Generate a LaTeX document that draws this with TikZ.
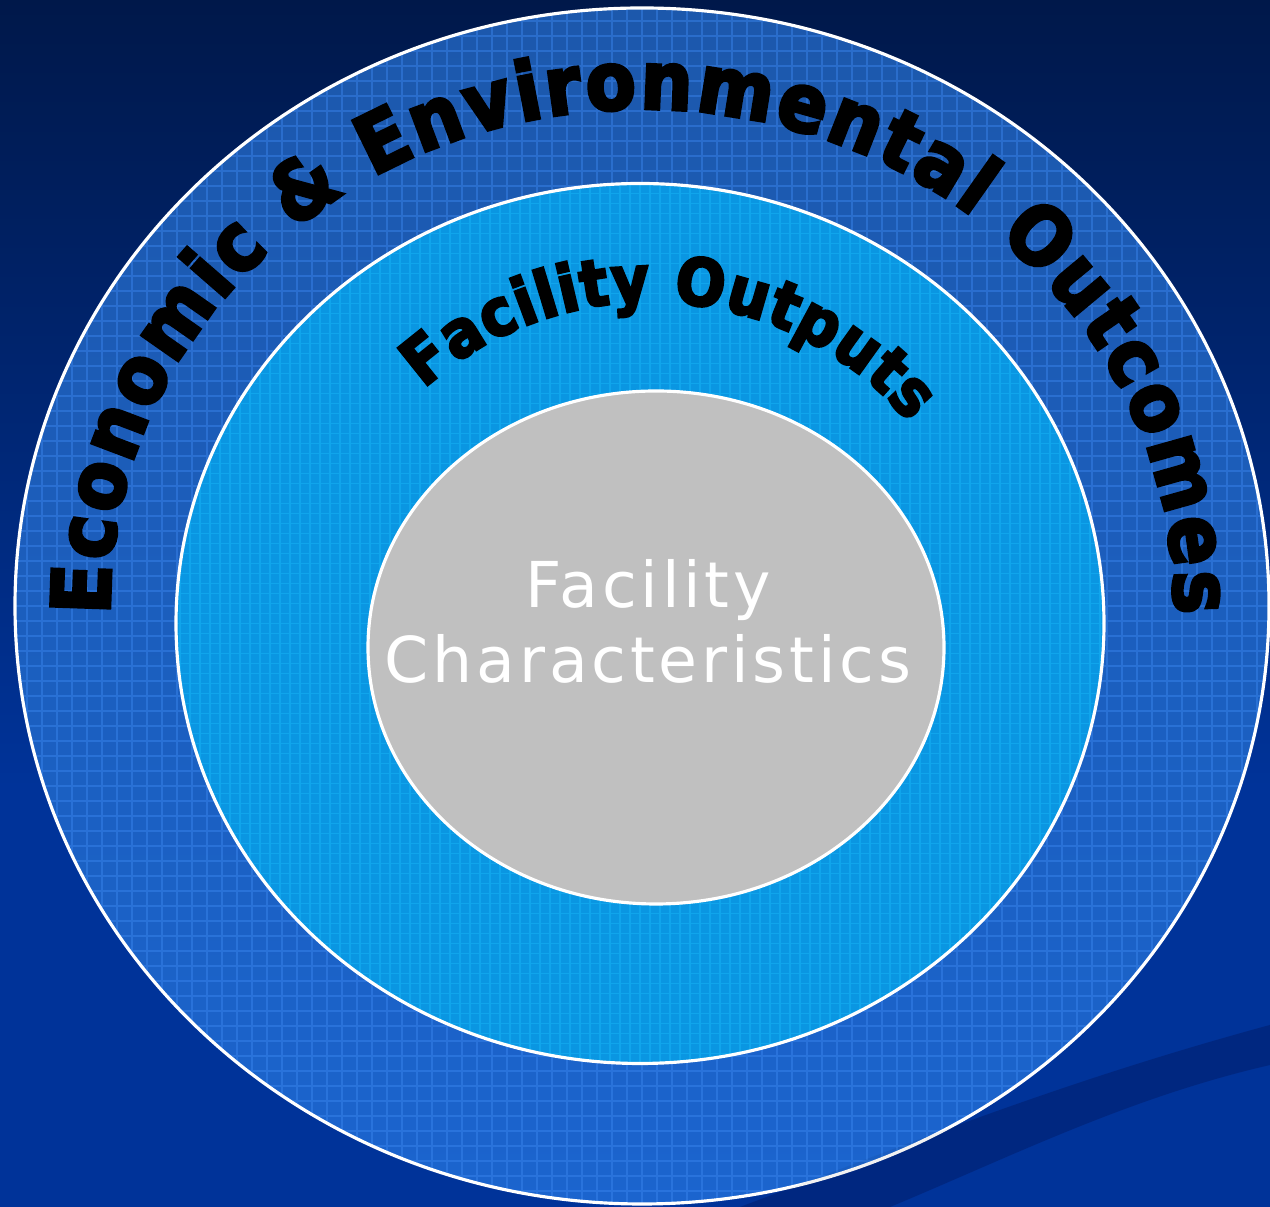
\documentclass[tikz,border=0pt]{standalone}
\usepackage{fontspec}
\setmainfont{DejaVu Sans}
\newfontfamily\heavyfont{DejaVu Sans Bold}[FakeBold=4,FakeStretch=0.9]
\newfontfamily\labelfont{DejaVu Sans}[LetterSpace=6]
\usetikzlibrary{shapes.geometric,decorations.text}
\definecolor{NightBlue}{RGB}{0,24,74}
\definecolor{DeepBlue}{RGB}{0,51,153}
\definecolor{SwooshBlue}{RGB}{0,42,135}
\definecolor{RingTop}{RGB}{28,88,172}
\definecolor{RingBlue}{RGB}{27,100,206}
\definecolor{RingGrid}{RGB}{60,135,240}
\definecolor{SkyBlue}{RGB}{10,150,226}
\definecolor{SkyGrid}{RGB}{25,185,250}
\definecolor{CoreGray}{RGB}{192,192,192}
\tikzset{
  layer/.style={ellipse,draw=white,line width=0.9pt,inner sep=0pt},
  gridded/.style 2 args={path picture={
    \draw[#1,line width=0.4pt,opacity=0.45]
      (path picture bounding box.south west) grid[step=#2]
      (path picture bounding box.north east);}},
  arctext/.style={decorate,decoration={text along path,text color=black,
    text align=fit to path,text={#1}}},
}

\begin{document}
\begin{tikzpicture}
  \useasboundingbox (0,0) rectangle (12.7,12.07);
  \fill[DeepBlue] (0,0) rectangle (12.7,12.07);
  \shade[top color=NightBlue,bottom color=DeepBlue] (0,4.2) rectangle (12.7,12.07);
  \fill[SwooshBlue] (12.7,1.82) .. controls (10.6,1.25) and (9.0,0.6) .. (7.4,0)
    -- (8.9,0) .. controls (10.1,0.5) and (11.3,1.1) .. (12.7,1.42) -- cycle;

  \node[layer,top color=RingTop,bottom color=RingBlue,gridded={RingGrid}{0.15},
    minimum width=12.54cm,minimum height=11.96cm] (outcomes) at (6.42,6.01) {};
  \node[layer,fill=SkyBlue,gridded={SkyGrid}{0.10},
    minimum width=9.28cm,minimum height=8.80cm] (outputs) at (6.40,5.835) {};
  \node[layer,fill=CoreGray,
    minimum width=5.76cm,minimum height=5.13cm] (core) at (6.56,5.595) {};

  \fill[black,opacity=0.05] (12.7,1.82) .. controls (10.6,1.25) and (9.0,0.6) .. (7.4,0)
    -- (8.9,0) .. controls (10.1,0.5) and (11.3,1.1) .. (12.7,1.42) -- cycle;

  \coordinate (hub) at (6.50,5.67);
  \path[arctext={|\heavyfont\fontsize{23}{25}\selectfont|Economic {\&} Environmental Outcomes}]
    (outcomes.center) ++(181:5.32 and 4.97)
    arc[start angle=181,end angle=-1,x radius=5.32,y radius=4.97];
  \path[arctext={|\heavyfont\fontsize{18.5}{20}\selectfont|Facility Outputs}]
    (hub) ++(132:3.38) arc[start angle=132,end angle=40,radius=3.38];

  \node[font=\labelfont\fontsize{18}{21.3}\selectfont,text=white,align=center]
    (traits) at (6.48,5.86) {Facility\\Characteristics};
\end{tikzpicture}
\end{document}
